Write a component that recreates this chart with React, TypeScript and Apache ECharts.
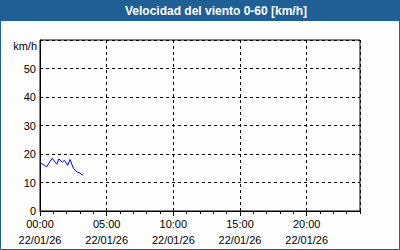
import React, { useEffect, useRef } from "react";
import * as echarts from "echarts";

const titleText = "Velocidad del viento 0-60 [km/h]";
const unitLabel = "km/h";
const dateLabel = "22/01/26";
// minutes since 00:00
const times = [5, 20, 30, 40, 55, 75, 85, 100, 110, 125, 135, 150, 160, 170, 180, 190, 195];
const speeds = [16.8, 16.0, 15.5, 16.8, 18.5, 16.4, 18.3, 17.1, 17.8, 16.0, 18.1, 15.0, 14.1, 13.6, 13.3, 12.6, 12.9];
const yTicks = [0, 10, 20, 30, 40, 50];

const font = "Liberation Sans";

function pad(n: number) {
  return n < 10 ? "0" + n : "" + n;
}

export default function App() {
  const ref = useRef<HTMLDivElement>(null);
  useEffect(() => {
    const chart = echarts.init(ref.current!, null, { renderer: "svg" });
    const data = times.map((t, i) => [t, speeds[i]]);
    chart.setOption({
      animation: false,
      backgroundColor: "#fefefe",
      textStyle: { fontFamily: font },
      grid: { left: 40, right: 40, top: 40, bottom: 39, show: true, borderColor: "#000", borderWidth: 1, backgroundColor: "transparent" },
      graphic: [
        { type: "rect", left: 0, top: 0, shape: { x: 0, y: 0, width: 400, height: 21 }, style: { fill: "#1f5f95" }, z: 10 },
        { type: "rect", shape: { x: 0.5, y: 0.5, width: 399, height: 249 }, style: { fill: "none", stroke: "#1f5f95", lineWidth: 1 }, z: 10 },
        { type: "text", x: 216, y: 11, style: { text: titleText, fill: "#fff", font: `bold 12px "${font}"`, align: "center", verticalAlign: "middle" }, z: 11 },
        { type: "text", x: 37, y: 46, style: { text: unitLabel, fill: "#000", font: `11px "${font}"`, align: "right", verticalAlign: "middle" }, z: 11 },
      ],
      xAxis: [
        {
          type: "value",
          min: 0,
          max: 1440,
          interval: 300,
          position: "bottom",
          axisLine: { show: true, lineStyle: { color: "#000", width: 1 } },
          axisTick: { show: true, length: 5, lineStyle: { color: "#000" } },
          splitLine: { show: true, lineStyle: { color: "#000", type: [3, 3], width: 1 } },
          axisLabel: {
            color: "#000",
            fontSize: 11,
            lineHeight: 16,
            margin: 5,
            showMaxLabel: false,
            formatter: (v: number) => (v >= 1440 ? "" : `${pad(Math.floor(v / 60))}:${pad(v % 60)}\n${dateLabel}`),
          },
        },
        {
          type: "value",
          min: 0,
          max: 1440,
          interval: 60,
          position: "bottom",
          offset: 0,
          axisLine: { show: false },
          axisTick: { show: true, length: 3, lineStyle: { color: "#000" } },
          splitLine: { show: false },
          axisLabel: { show: false },
        },
      ],
      yAxis: {
        type: "value",
        min: 0,
        max: 60,
        interval: 10,
        axisLine: { show: true, lineStyle: { color: "#000" } },
        axisTick: { show: false },
        splitLine: { show: true, lineStyle: { color: "#000", type: [3, 3], width: 1 } },
        axisLabel: {
          color: "#000",
          fontSize: 11,
          margin: 4,
          formatter: (v: number) => (yTicks.includes(v) ? String(v) : ""),
        },
      },
      series: [
        {
          type: "line",
          xAxisIndex: 0,
          data,
          showSymbol: false,
          symbol: "none",
          lineStyle: { color: "#0000ff", width: 1 },
        },
      ],
    });
    return () => chart.dispose();
  }, []);
  return <div ref={ref} style={{ position: "fixed", left: 0, top: 0, width: 400, height: 250 }} />;
}
